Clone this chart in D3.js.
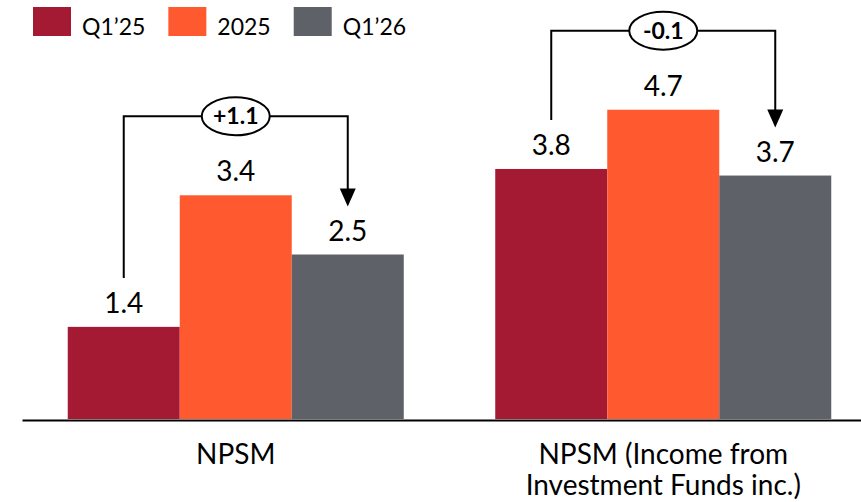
<!DOCTYPE html>
<html>
<head>
<meta charset="utf-8">
<script src="https://cdn.jsdelivr.net/npm/d3@7"></script>
<style>
  html, body { margin: 0; padding: 0; background: #fff; }
  svg { display: block; font-family: Lato, "Open Sans", sans-serif; }
</style>
</head>
<body>
<svg id="chart" width="861" height="502"></svg>
<script>
// Categories (each label split into its display lines)
const categories = ["NPSM", "NPSM (Income from Investment Funds inc.)"];
const categoryLines = [["NPSM"], ["NPSM (Income from", "Investment Funds inc.)"]];

// Series
const seriesNames = ["Q1’25", "2025", "Q1’26"];
const valuesQ1_25 = [1.4, 3.8];
const values2025 = [3.4, 4.7];
const valuesQ1_26 = [2.5, 3.7];
const changeLabels = ["+1.1", "-0.1"];

const colors = ["#A51A33", "#FF5A2F", "#5F6168"];
const seriesValues = [valuesQ1_25, values2025, valuesQ1_26];

const svg = d3.select("#chart");

const x0 = d3.scaleBand()
  .domain(categories)
  .range([22, 877])
  .paddingInner(0.214)
  .paddingOuter(0.107);

const x1 = d3.scaleBand()
  .domain(seriesNames)
  .range([0, x0.bandwidth()]);

const y = d3.scaleLinear()
  .domain([0, 5])
  .range([419, 90]);

const color = d3.scaleOrdinal().domain(seriesNames).range(colors);

const rows = categories.map((c, i) => ({
  category: c,
  values: seriesNames.map((s, j) => ({ series: s, value: seriesValues[j][i] }))
}));

// Bars
const groups = svg.append("g").selectAll("g")
  .data(rows)
  .join("g")
  .attr("transform", d => `translate(${x0(d.category)},0)`);

groups.selectAll("rect")
  .data(d => d.values)
  .join("rect")
  .attr("x", d => x1(d.series))
  .attr("y", d => y(d.value))
  .attr("width", x1.bandwidth())
  .attr("height", d => y(0) - y(d.value))
  .attr("fill", d => color(d.series));

// Value labels
groups.selectAll("text.value")
  .data(d => d.values)
  .join("text")
  .attr("class", "value")
  .attr("x", d => x1(d.series) + x1.bandwidth() / 2)
  .attr("y", d => y(d.value) - 14)
  .attr("text-anchor", "middle")
  .attr("font-size", 28)
  .attr("fill", "#000")
  .text(d => d.value.toFixed(1));

// Category axis
const axis = svg.append("g")
  .attr("transform", "translate(0,420)")
  .call(d3.axisBottom(x0).tickSize(0).tickSizeOuter(0).tickFormat(""));
axis.select(".domain").attr("stroke", "#000").attr("stroke-width", 2);

axis.selectAll(".tick text")
  .attr("font-size", 28)
  .attr("fill", "#000")
  .attr("font-family", "Lato, sans-serif")
  .attr("y", 0)
  .attr("dy", 0)
  .each(function (d, i) {
    const t = d3.select(this);
    categoryLines[i].forEach((line, k) => {
      t.append("tspan")
        .attr("x", 0)
        .attr("y", 44 + k * 31)
        .text(line);
    });
  });

// Change brackets between Q1'25 and Q1'26
const ann = svg.append("g");
rows.forEach((r, i) => {
  const gx = x0(r.category);
  const xl = gx + x1(seriesNames[0]) + x1.bandwidth() / 2;
  const xr = gx + x1(seriesNames[2]) + x1.bandwidth() / 2;
  const yTop = y(d3.max(r.values, d => d.value)) - 79;
  const yLeft = y(r.values[0].value) - 49;
  const tip = y(r.values[2].value) - 48;
  const headH = 18, headW = 8;

  ann.append("path")
    .attr("d", `M${xl},${yLeft}V${yTop}H${xr}V${tip - headH + 1}`)
    .attr("fill", "none")
    .attr("stroke", "#000")
    .attr("stroke-width", 2);

  ann.append("path")
    .attr("d", `M${xr - headW},${tip - headH}L${xr + headW},${tip - headH}L${xr},${tip}Z`)
    .attr("fill", "#000");

  const cx = gx + x0.bandwidth() / 2;
  ann.append("ellipse")
    .attr("cx", cx)
    .attr("cy", yTop)
    .attr("rx", 34)
    .attr("ry", 19)
    .attr("fill", "#fff")
    .attr("stroke", "#000")
    .attr("stroke-width", 2);

  ann.append("text")
    .attr("x", cx)
    .attr("y", yTop + 8)
    .attr("text-anchor", "middle")
    .attr("font-size", 23)
    .attr("font-weight", "bold")
    .attr("fill", "#000")
    .text(changeLabels[i]);
});

// Legend
const legend = svg.append("g");
let lx = 33;
seriesNames.forEach((s, i) => {
  legend.append("rect")
    .attr("x", lx)
    .attr("y", 7)
    .attr("width", 38)
    .attr("height", 29)
    .attr("fill", color(s));
  const t = legend.append("text")
    .attr("x", lx + 49)
    .attr("y", 35)
    .attr("font-size", 23)
    .attr("fill", "#000")
    .text(s);
  lx = lx + 49 + t.node().getComputedTextLength() + 23;
});
</script>
</body>
</html>
